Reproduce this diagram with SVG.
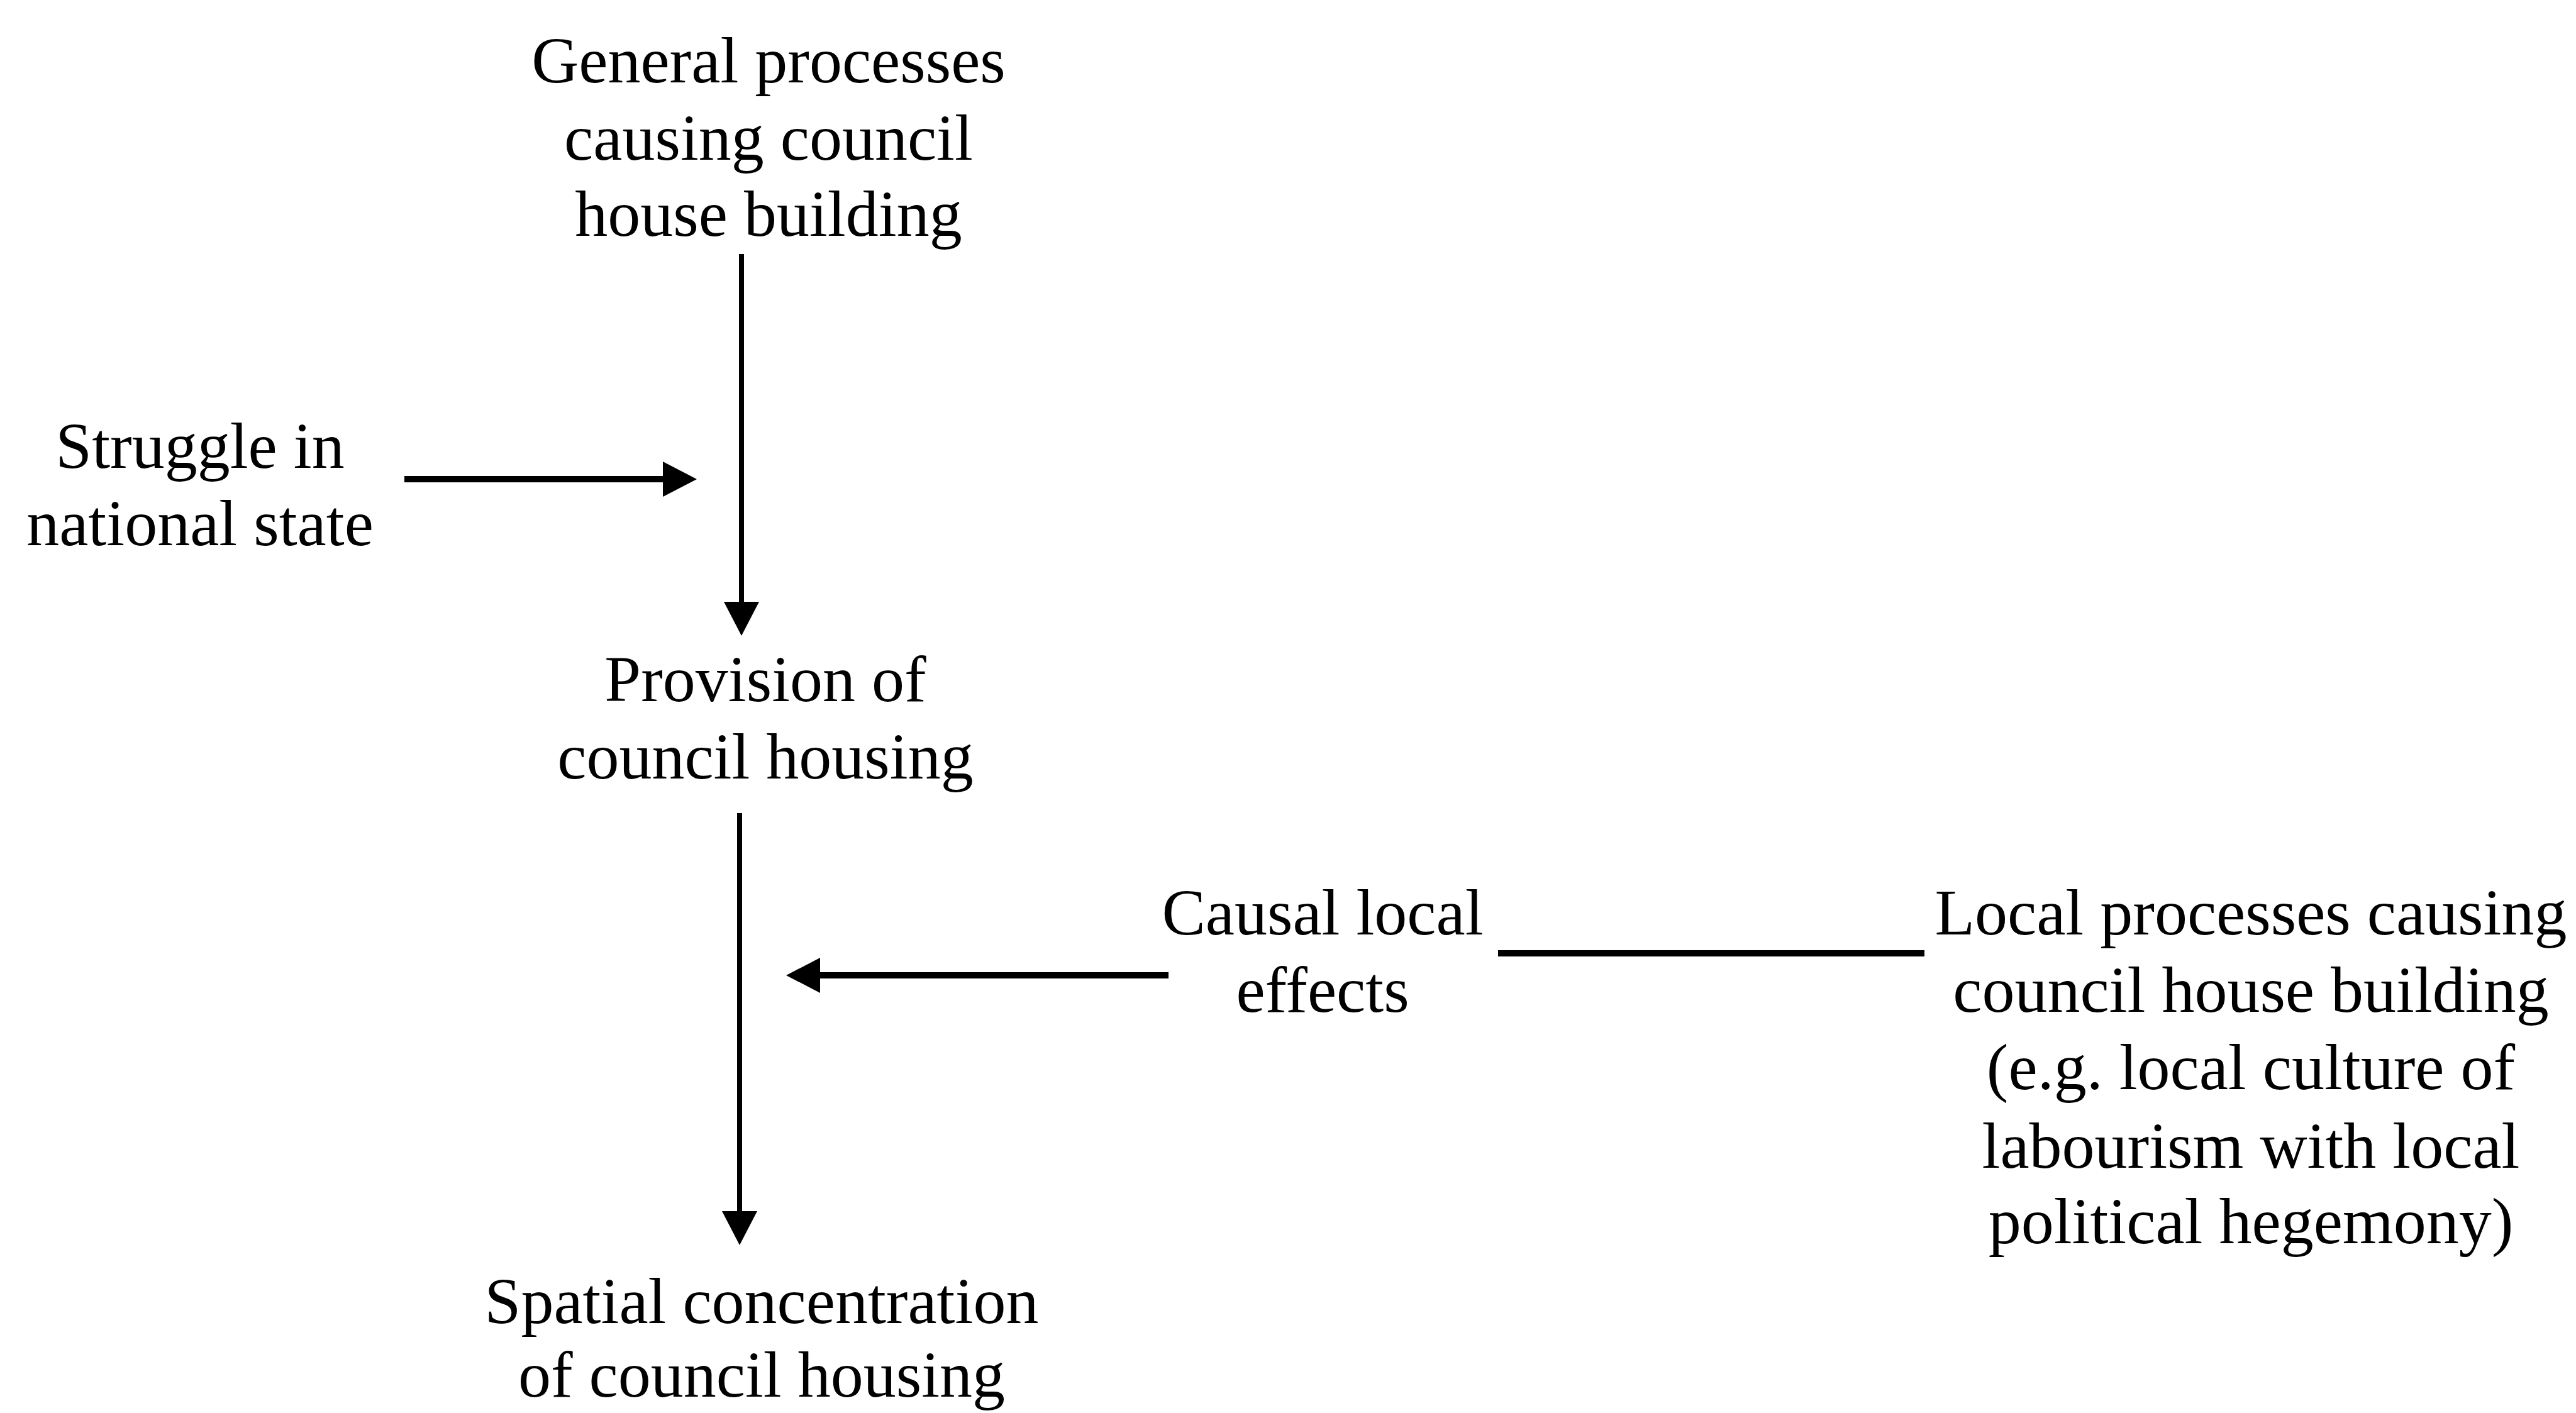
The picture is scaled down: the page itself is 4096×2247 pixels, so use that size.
<svg xmlns="http://www.w3.org/2000/svg" width="4096" height="2247" viewBox="0 0 4096 2247">
  <style>
    .lbl { font-family: "Liberation Serif", "Times New Roman", serif; font-size: 104px; fill: #000; text-anchor: middle; }
    .conn { stroke: #000; fill: none; stroke-linecap: butt; }
    .v { stroke-width: 8; }
    .h { stroke-width: 10; }
  </style>
  <defs>
    <marker id="arrow" markerUnits="userSpaceOnUse" markerWidth="54" markerHeight="56" refX="0" refY="28" orient="auto" overflow="visible">
      <path d="M0,0 L54,28 L0,56 Z" fill="#000"/>
    </marker>
  </defs>
  <rect width="4096" height="2247" fill="#fff"/>

  <g id="connectors">
    <line class="conn v" x1="1179" y1="404" x2="1179" y2="957" marker-end="url(#arrow)"/>
    <line class="conn h" x1="643" y1="762" x2="1054" y2="762" marker-end="url(#arrow)"/>
    <line class="conn v" x1="1176" y1="1293" x2="1176" y2="1926" marker-end="url(#arrow)"/>
    <line class="conn h" x1="1858" y1="1551" x2="1304" y2="1551" marker-end="url(#arrow)"/>
    <line class="conn h" x1="2382" y1="1516" x2="3060" y2="1516"/>
  </g>

  <g id="node-general">
    <text class="lbl" x="1222" y="131">General processes</text>
    <text class="lbl" x="1222" y="254">causing council</text>
    <text class="lbl" x="1222" y="375">house building</text>
  </g>

  <g id="node-struggle">
    <text class="lbl" x="318" y="744">Struggle in</text>
    <text class="lbl" x="318" y="867">national state</text>
  </g>

  <g id="node-provision">
    <text class="lbl" x="1217" y="1115">Provision of</text>
    <text class="lbl" x="1217" y="1238">council housing</text>
  </g>

  <g id="node-causal">
    <text class="lbl" x="2103" y="1486">Causal local</text>
    <text class="lbl" x="2103" y="1609">effects</text>
  </g>

  <g id="node-local">
    <text class="lbl" x="3579" y="1486">Local processes causing</text>
    <text class="lbl" x="3579" y="1609">council house building</text>
    <text class="lbl" x="3579" y="1732">(e.g. local culture of</text>
    <text class="lbl" x="3579" y="1857">labourism with local</text>
    <text class="lbl" x="3579" y="1977">political hegemony)</text>
  </g>

  <g id="node-spatial">
    <text class="lbl" x="1211" y="2104">Spatial concentration</text>
    <text class="lbl" x="1211" y="2221">of council housing</text>
  </g>
</svg>
